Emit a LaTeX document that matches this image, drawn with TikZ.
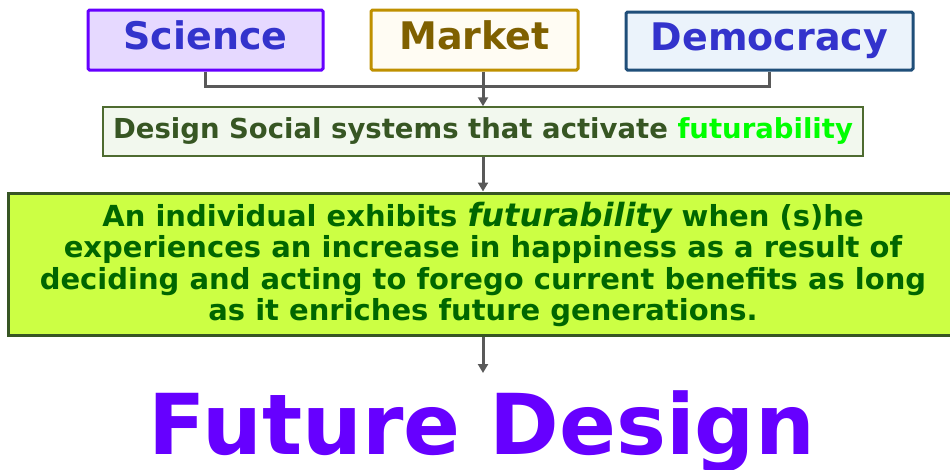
\documentclass[tikz,border=0pt]{standalone}
\usepackage{fontspec}
\usetikzlibrary{arrows.meta}
\setmainfont{DejaVu Sans}
\definecolor{sciline}{HTML}{6600FF}
\definecolor{scifill}{HTML}{E6D9FF}
\definecolor{bluetext}{HTML}{3333CC}
\definecolor{mktline}{HTML}{BF9000}
\definecolor{mktfill}{HTML}{FFFCF3}
\definecolor{mkttext}{HTML}{7F6000}
\definecolor{demline}{HTML}{1F4E79}
\definecolor{demfill}{HTML}{EBF3FB}
\definecolor{dsgline}{HTML}{4E6B30}
\definecolor{dsgfill}{HTML}{F2F8EE}
\definecolor{dsgtext}{HTML}{375623}
\definecolor{futline}{HTML}{375623}
\definecolor{futfill}{HTML}{CCFF44}
\definecolor{futtext}{HTML}{006600}
\definecolor{connect}{HTML}{595959}
\begin{document}
\begin{tikzpicture}[x=1pt,y=-1pt]
    \tikzstyle{pillar}=[draw,line width=3pt,rounded corners=1.5pt,inner sep=0pt,
                        minimum height=60pt,text height=28pt,text depth=10pt,
                        font=\bfseries\fontsize{38}{42}\selectfont]
    \tikzstyle{linkline}=[draw=connect,line width=3pt]
    \tikzstyle{linkarrow}=[linkline,-{Triangle[length=9pt,width=10pt]}]
    \useasboundingbox (0,0) rectangle (950,469);
    % the three pillars
    \node[pillar,draw=sciline,fill=scifill,text=bluetext,minimum width=235pt] (sci) at (205.5,40) {Science};
    \node[pillar,draw=mktline,fill=mktfill,text=mkttext,minimum width=207pt] (mkt) at (474.5,40) {Market};
    \node[pillar,draw=demline,fill=demfill,text=bluetext,minimum width=287pt,minimum height=58pt] (dem) at (769.5,41) {Democracy};
    \node[draw=dsgline,fill=dsgfill,line width=1.5pt,minimum width=760pt,minimum height=49pt,
          inner sep=0pt,text=dsgtext,font=\bfseries\fontsize{27.5}{30}\selectfont] (dsg) at (483,131.5)
          {Design Social systems that activate \textcolor{green}{futurability}};
    \node[draw=futline,fill=futfill,line width=3pt,minimum width=950pt,minimum height=142pt,
          inner sep=0pt,text=futtext,align=center,text depth=5pt,font=\bfseries\fontsize{29}{31.5}\selectfont] (fut) at (483,264)
          {An individual exhibits {\fontsize{32}{31.5}\selectfont\itshape futurability} when (s)he\\
           experiences an increase in happiness as a result of\\
           deciding and acting to forego current benefits as long\\
           as it enriches future generations.};
    \node[anchor=base,text=sciline,inner sep=0pt,font=\bfseries\fontsize{84}{84}\selectfont] (fd) at (482,454) {Future Design};
    % connectors
    \coordinate (joint) at (483,86);
    \draw[linkline] (sci.south) |- (joint) -| (dem.south);
    \draw[linkarrow] (joint |- mkt.south) -- (joint |- dsg.north);
    \draw[linkarrow] (dsg.south) -- (fut.north);
    \draw[linkarrow] (fut.south) -- (483,373);
\end{tikzpicture}
\end{document}
